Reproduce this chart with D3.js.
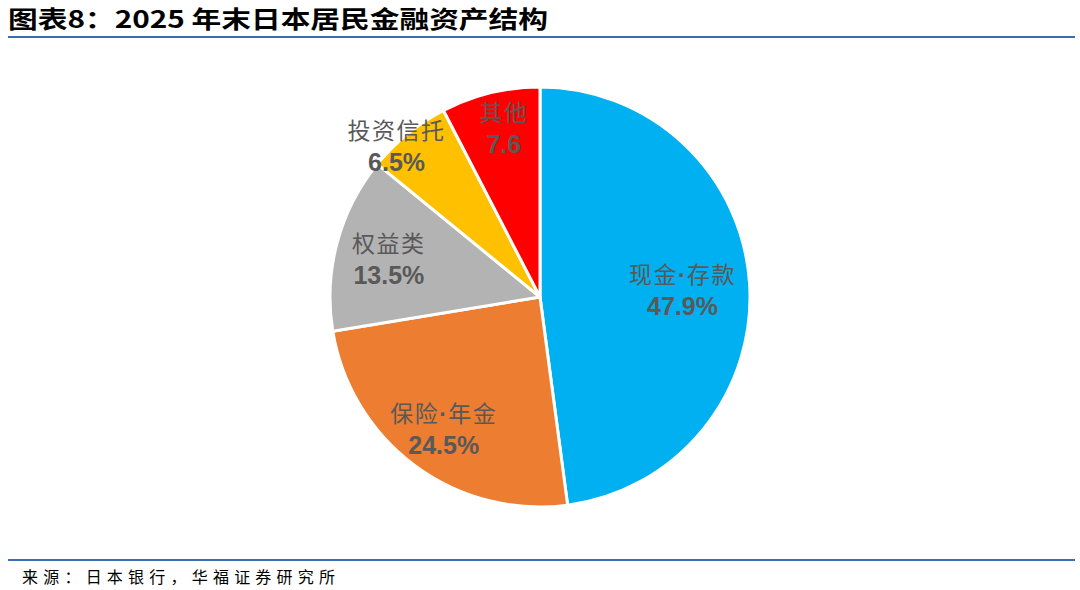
<!DOCTYPE html>
<html><head><meta charset="utf-8">
<script src="https://cdn.jsdelivr.net/npm/d3@7/dist/d3.min.js"></script>
<style>body{margin:0;background:#fff;} svg{display:block;}</style>
</head><body>
<svg id="c" width="1080" height="590"></svg>
<script>
const categories = ["现金·存款", "保险·年金", "权益类", "投资信托", "其他"];
const values = [47.9, 24.5, 13.5, 6.5, 7.6];
const valueLabels = ["47.9%", "24.5%", "13.5%", "6.5%", "7.6"];
const colors = ["#00B0F0", "#ED7D31", "#B3B3B3", "#FFC000", "#FF0000"];
// label radius as fraction of pie radius (layout)
const labelRadiusFactor = [0.68, 0.77, 0.745, 1.0, 0.83];
const labelAngleShift = [0, 0, 0, -0.07, 0.03];

const svg = d3.select("#c");
const W = 1080, H = 590;
const cx = 540, cy = 297, R = 210;

svg.append("rect").attr("width", W).attr("height", H).attr("fill", "#fff");

// title
svg.append("text").attr("x", 8).attr("y", 28)
  .attr("font-family", "'Noto Sans CJK SC', sans-serif").attr("font-weight", "bold")
  .attr("font-size", 24).attr("fill", "#000")
  .attr("textLength", 540).attr("lengthAdjust", "spacingAndGlyphs")
  .text("图表8：2025 年末日本居民金融资产结构");
svg.append("line").attr("x1", 8).attr("x2", 1075).attr("y1", 37).attr("y2", 37)
  .attr("stroke", "#3B6DB5").attr("stroke-width", 2);

// footer
svg.append("line").attr("x1", 8).attr("x2", 1075).attr("y1", 560).attr("y2", 560)
  .attr("stroke", "#3B6DB5").attr("stroke-width", 2);
svg.append("text").attr("x", 22).attr("y", 583)
  .attr("font-family", "'Noto Sans CJK SC', sans-serif")
  .attr("font-size", 16).attr("fill", "#000")
  .attr("textLength", 313).attr("lengthAdjust", "spacing")
  .text("来源：日本银行，华福证券研究所");

const data = categories.map((c, i) => ({c, v: values[i], lbl: valueLabels[i], col: colors[i], i}));
const pie = d3.pie().value(d => d.v).sort(null);
const arcs = pie(data);
const arc = d3.arc().innerRadius(0).outerRadius(R);

const g = svg.append("g").attr("transform", `translate(${cx},${cy})`);
g.selectAll("path").data(arcs).join("path")
  .attr("d", arc).attr("fill", d => d.data.col)
  .attr("stroke", "#fff").attr("stroke-width", 3).attr("stroke-linejoin", "round");

const lg = g.selectAll("g.lbl").data(arcs).join("g").attr("class", "lbl")
  .attr("transform", d => {
    const a = (d.startAngle + d.endAngle) / 2 + labelAngleShift[d.data.i];
    const r = R * labelRadiusFactor[d.data.i];
    return `translate(${r * Math.sin(a)},${-r * Math.cos(a)})`;
  });
const nameText = lg.append("text").attr("text-anchor", "middle").attr("y", -5)
  .attr("font-family", "'Noto Sans CJK SC', sans-serif").attr("font-size", 23)
  .attr("letter-spacing", 1.5)
  .attr("fill", "#595959");
nameText.each(function(d) {
  const parts = d.data.c.split("·");
  const t = d3.select(this);
  parts.forEach((p, k) => {
    if (k > 0) t.append("tspan").attr("font-family", "'Liberation Sans', Arial, sans-serif")
      .attr("font-weight", "bold").text("·");
    t.append("tspan").text(p);
  });
});
lg.append("text").attr("text-anchor", "middle").attr("y", 27)
  .attr("font-family", "'Liberation Sans', Arial, sans-serif").attr("font-weight", "bold")
  .attr("font-size", 25).attr("fill", "#595959").text(d => d.data.lbl);
</script>
</body></html>
